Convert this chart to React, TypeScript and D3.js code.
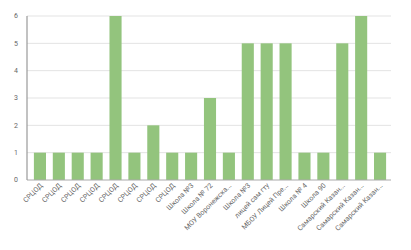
import React from "react";
import * as d3 from "d3";

const categories = [
  "СРЦОД", "СРЦОД", "СРЦОД", "СРЦОД", "СРЦОД", "СРЦОД", "СРЦОД", "СРЦОД",
  "Школа №3", "Школа № 72", "МОУ Воронежска...", "Школа №3", "лицей сам гту",
  "МБОУ Лицей Пре...", "Школа № 4", "Школа 90", "Самарский Казан...",
  "Самарский Казан...", "Самарский Казан...",
];
const values = [1, 1, 1, 1, 6, 1, 2, 1, 1, 3, 1, 5, 5, 5, 1, 1, 5, 6, 1];
const yTicks = [0, 1, 2, 3, 4, 5, 6];

const W = 411;
const H = 250;
const axisX = 27;
const plotRight = 391;
const top = 16;
const bottom = 180;

export default function App() {
  const x = d3
    .scaleBand<number>()
    .domain(d3.range(categories.length))
    .range([30.5, 389.5])
    .paddingInner(0.36)
    .paddingOuter(0.18);
  const y = d3.scaleLinear().domain([0, 6]).range([bottom, top]);

  return (
    <svg
      width={W}
      height={H}
      style={{ position: "absolute", left: 0, top: 0, fontFamily: "Roboto, Arial, sans-serif" }}
    >
      <rect width={W} height={H} fill="#fff" />
      {yTicks.map((t) => (
        <g key={t}>
          {t > 0 && (
            <line x1={axisX} x2={plotRight} y1={y(t)} y2={y(t)} stroke="#e3e3e3" strokeWidth={1} />
          )}
          <text x={18} y={y(t)} dy="0.35em" textAnchor="end" fontSize={7} fill="#666">
            {t}
          </text>
        </g>
      ))}
      {values.map((v, i) => (
        <rect
          key={i}
          x={x(i)}
          y={y(v)}
          width={x.bandwidth()}
          height={y(0) - y(v)}
          fill="#93c47d"
        />
      ))}
      <line x1={axisX} x2={plotRight} y1={bottom} y2={bottom} stroke="#aaa" strokeWidth={1} />
      <line x1={axisX} x2={axisX} y1={top} y2={bottom} stroke="#999" strokeWidth={1.2} />
      {categories.map((c, i) => {
        const cx = (x(i) ?? 0) + x.bandwidth() / 2 + 3;
        const cy = 186;
        return (
          <text
            key={i}
            x={cx}
            y={cy}
            transform={`rotate(-45 ${cx} ${cy})`}
            textAnchor="end"
            fontSize={7}
            fill="#666"
          >
            {c}
          </text>
        );
      })}
    </svg>
  );
}
